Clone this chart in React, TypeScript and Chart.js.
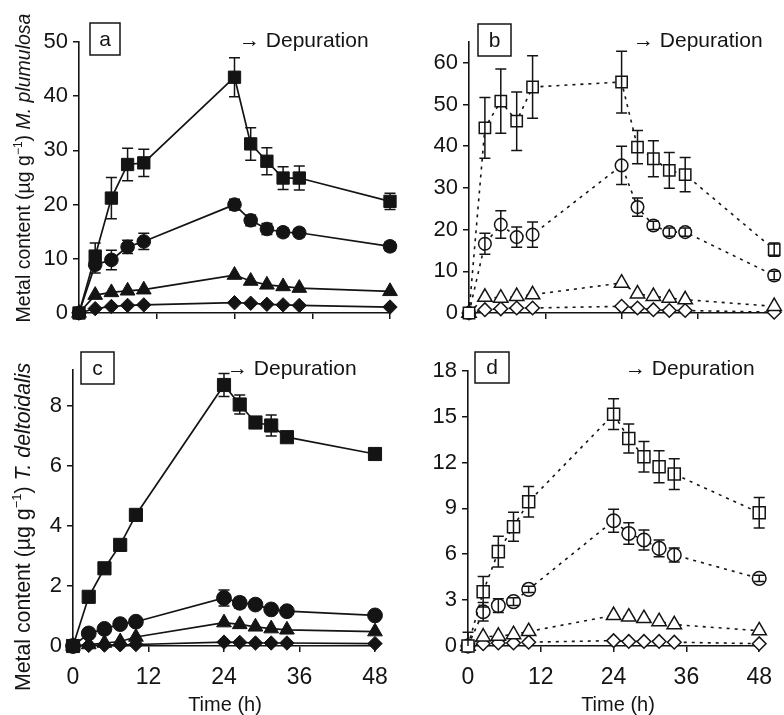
import React, { useEffect, useRef } from 'react';
import { Chart, registerables } from 'chart.js';

Chart.register(...registerables);

const W = 784;
const H = 715;
const FONT = "'Liberation Sans', Arial, Helvetica, sans-serif";
const INK = '#141414';

// ---------- data ----------
const times = [0, 2.5, 5, 7.5, 10, 24, 26.5, 29, 31.5, 34, 48];
const xTicks = [0, 12, 24, 36, 48];
const yTicksA = [0, 10, 20, 30, 40, 50];
const yTicksB = [0, 10, 20, 30, 40, 50, 60];
const yTicksC = [0, 2, 4, 6, 8];
const yTicksD = [0, 3, 6, 9, 12, 15, 18];

const xTitle = 'Time (h)';
const depLabel = '\u2192 Depuration';
const titleTop = [
  { t: 'Metal content (\u00b5g g' },
  { t: '\u22121', sup: true },
  { t: ') ' },
  { t: 'M. plumulosa', it: true },
];
const titleBottom = [
  { t: 'Metal content (\u00b5g g' },
  { t: '\u22121', sup: true },
  { t: ') ' },
  { t: 'T. deltoidalis', it: true },
];

// Panel a (M. plumulosa, filled)
const aSquare = [0, 10.5, 21.2, 27.4, 27.7, 43.5, 31.2, 28.0, 24.9, 24.9, 20.6];
const aSquareErr = [0, 2.4, 3.8, 3.0, 2.5, 3.6, 3.0, 2.5, 2.1, 2.2, 1.5];
const aCircle = [0, 8.9, 9.8, 12.2, 13.2, 20.0, 17.1, 15.5, 14.9, 14.8, 12.3];
const aCircleErr = [0, 1.5, 1.8, 1.2, 1.5, 1.0, 1.0, 1.0, 0.8, 0.8, 0.8];
const aTriangle = [0, 3.3, 3.8, 4.1, 4.3, 7.0, 5.9, 5.2, 4.9, 4.6, 4.0];
const aDiamond = [0, 0.8, 1.2, 1.4, 1.5, 1.9, 1.8, 1.6, 1.5, 1.4, 1.1];

// Panel b (M. plumulosa, open)
const bSquare = [0, 44.4, 50.8, 46.0, 54.2, 55.4, 39.8, 37.0, 34.2, 33.2, 15.2];
const bSquareErr = [0, 7.3, 7.7, 7.0, 7.5, 7.4, 4.0, 4.3, 4.3, 4.1, 1.6];
const bCircle = [0, 16.6, 21.2, 18.2, 18.8, 35.4, 25.4, 21.0, 19.4, 19.4, 9.0];
const bCircleErr = [0, 2.5, 3.3, 2.4, 3.0, 4.6, 2.2, 1.0, 1.0, 1.0, 1.0];
const bTriangle = [0, 3.8, 3.6, 4.0, 4.4, 7.2, 4.6, 4.0, 3.6, 3.2, 1.6];
const bDiamond = [0, 0.8, 1.0, 1.2, 1.2, 1.6, 1.2, 0.8, 0.6, 0.6, 0.2];

// Panel c (T. deltoidalis, filled)
const cSquare = [0, 1.64, 2.59, 3.37, 4.37, 8.7, 8.05, 7.45, 7.35, 6.96, 6.4];
const cSquareErr = [0, 0.05, 0.05, 0.05, 0.05, 0.38, 0.32, 0.1, 0.35, 0.1, 0.1];
const cCircle = [0, 0.42, 0.57, 0.73, 0.81, 1.6, 1.44, 1.38, 1.22, 1.16, 1.02];
const cCircleErr = [0, 0, 0, 0, 0, 0.27, 0.18, 0.15, 0.05, 0.05, 0.05];
const cTriangle = [0, 0.05, 0.1, 0.15, 0.3, 0.78, 0.72, 0.64, 0.58, 0.54, 0.48];
const cDiamond = [0, 0.02, 0.03, 0.04, 0.05, 0.13, 0.12, 0.1, 0.1, 0.1, 0.08];

// Panel d (T. deltoidalis, open)
const dSquare = [0, 3.55, 6.17, 7.8, 9.43, 15.16, 13.57, 12.37, 11.72, 11.24, 8.71];
const dSquareErr = [0.9, 1.0, 1.0, 0.95, 1.0, 1.0, 0.95, 1.0, 1.05, 1.0, 1.0];
const dCircle = [0, 2.24, 2.64, 2.9, 3.7, 8.19, 7.36, 6.93, 6.38, 5.95, 4.42];
const dCircleErr = [0, 0.6, 0.45, 0.25, 0.2, 0.75, 0.7, 0.65, 0.55, 0.45, 0.2];
const dTriangle = [0, 0.6, 0.65, 0.75, 0.95, 2.0, 1.9, 1.8, 1.6, 1.4, 1.0];
const dDiamond = [0, 0.15, 0.2, 0.2, 0.25, 0.35, 0.3, 0.3, 0.3, 0.25, 0.15];

const zeros = times.map(() => 0);

// ---------- layout (positions/styles) ----------
const YW = 60;
const XH = 60;

type Seg = { t: string; sup?: boolean; it?: boolean };

const panels = [
  {
    key: 'a', L: 79, R: 390, T: 42, B: 313, yMax: 50, yTicks: yTicksA, filled: true, dashed: false, showX: false,
    sizes: { sq: 8.7, ci: 6.8, tr: 8.5, di: 7.2 },
    series: [
      { v: aSquare, e: aSquareErr, s: 'rect' },
      { v: aCircle, e: aCircleErr, s: 'circle' },
      { v: aTriangle, e: zeros, s: 'triangle' },
      { v: aDiamond, e: zeros, s: 'rectRot' },
    ],
    box: { x: 90, y: 23, w: 30, h: 32 }, dep: { x: 239, y: 47 },
    title: { segs: titleTop, cy: 168, bx: 30, size: 19.5 },
  },
  {
    key: 'b', L: 469, R: 778, T: 42, B: 313, yMax: 65, yTicks: yTicksB, filled: false, dashed: true, showX: false,
    sizes: { sq: 8, ci: 6.3, tr: 8.3, di: 6.8 },
    series: [
      { v: bSquare, e: bSquareErr, s: 'rect' },
      { v: bCircle, e: bCircleErr, s: 'circle' },
      { v: bTriangle, e: zeros, s: 'triangle' },
      { v: bDiamond, e: zeros, s: 'rectRot' },
    ],
    box: { x: 478, y: 24, w: 33, h: 32 }, dep: { x: 633, y: 47 },
  },
  {
    key: 'c', L: 73, R: 375, T: 370, B: 646, yMax: 9.2, yTicks: yTicksC, filled: true, dashed: false, showX: true,
    sizes: { sq: 9.3, ci: 7.4, tr: 8.5, di: 7.2 },
    series: [
      { v: cSquare, e: cSquareErr, s: 'rect' },
      { v: cCircle, e: cCircleErr, s: 'circle' },
      { v: cTriangle, e: zeros, s: 'triangle' },
      { v: cDiamond, e: zeros, s: 'rectRot' },
    ],
    box: { x: 81, y: 352, w: 33, h: 32 }, dep: { x: 227, y: 375 },
    title: { segs: titleBottom, cy: 527, bx: 30, size: 21.3 },
    xt: { x: 225, y: 711 },
  },
  {
    key: 'd', L: 468, R: 770, T: 370.7, B: 646, yMax: 18, yTicks: yTicksD, filled: false, dashed: true, showX: true,
    sizes: { sq: 8.5, ci: 6.8, tr: 8.3, di: 6.8 },
    series: [
      { v: dSquare, e: dSquareErr, s: 'rect' },
      { v: dCircle, e: dCircleErr, s: 'circle' },
      { v: dTriangle, e: zeros, s: 'triangle' },
      { v: dDiamond, e: zeros, s: 'rectRot' },
    ],
    box: { x: 475, y: 352, w: 34, h: 31 }, dep: { x: 625, y: 375 },
    xt: { x: 618, y: 711 },
  },
];

// ---------- plugins ----------
const errorBars = {
  id: 'errorBars',
  afterDatasetsDraw(chart: any) {
    const ctx = chart.ctx;
    const ys = chart.scales.y;
    ctx.save();
    ctx.strokeStyle = INK;
    ctx.lineWidth = 1.5;
    chart.data.datasets.forEach((ds: any, i: number) => {
      const meta = chart.getDatasetMeta(i);
      const errs: number[] = ds.errors || [];
      meta.data.forEach((pt: any, j: number) => {
        const e = errs[j];
        if (!e) return;
        const v = ds.data[j].y;
        const x = pt.x;
        const yt = ys.getPixelForValue(v + e);
        const yb = ys.getPixelForValue(Math.max(v - e, 0));
        const cw = 5.5;
        ctx.beginPath();
        ctx.moveTo(x, yt); ctx.lineTo(x, yb);
        ctx.moveTo(x - cw, yt); ctx.lineTo(x + cw, yt);
        if (v - e > 0) { ctx.moveTo(x - cw, yb); ctx.lineTo(x + cw, yb); }
        ctx.stroke();
      });
    });
    ctx.restore();
  },
};

function drawRotated(ctx: CanvasRenderingContext2D, segs: Seg[], cy: number, bx: number, size: number) {
  ctx.save();
  const fontFor = (s: Seg) => `${s.it ? 'italic ' : ''}${s.sup ? Math.round(size * 0.62) : size}px ${FONT}`;
  const widths = segs.map((s) => { ctx.font = fontFor(s); return ctx.measureText(s.t).width; });
  const total = widths.reduce((a, b) => a + b, 0);
  ctx.translate(bx, cy);
  ctx.rotate(-Math.PI / 2);
  ctx.fillStyle = INK;
  ctx.textBaseline = 'alphabetic';
  ctx.textAlign = 'left';
  let x = -total / 2;
  segs.forEach((s, i) => {
    ctx.font = fontFor(s);
    ctx.fillText(s.t, x, s.sup ? -size * 0.42 : 0);
    x += widths[i];
  });
  ctx.restore();
}

const decor = {
  id: 'decor',
  afterDraw(chart: any, _args: any, opts: any) {
    const ctx: CanvasRenderingContext2D = chart.ctx;
    const p = opts.panel;
    if (!p) return;
    ctx.save();
    ctx.strokeStyle = INK;
    ctx.lineWidth = 1.5;
    ctx.strokeRect(p.box.x, p.box.y, p.box.w, p.box.h);
    ctx.fillStyle = INK;
    ctx.font = `21px ${FONT}`;
    ctx.textAlign = 'center';
    ctx.textBaseline = 'middle';
    ctx.fillText(p.key, p.box.x + p.box.w / 2, p.box.y + p.box.h / 2 + 1);
    ctx.font = `21px ${FONT}`;
    ctx.textAlign = 'left';
    ctx.textBaseline = 'alphabetic';
    ctx.fillText(depLabel, p.dep.x, p.dep.y);
    if (p.xt) {
      ctx.font = `20px ${FONT}`;
      ctx.textAlign = 'center';
      ctx.fillText(xTitle, p.xt.x, p.xt.y);
    }
    ctx.restore();
    if (p.title) drawRotated(ctx, p.title.segs, p.title.cy, p.title.bx, p.title.size);
  },
};

function buildConfig(p: any) {
  const sizeFor = (s: string) => (s === 'rect' ? p.sizes.sq : s === 'circle' ? p.sizes.ci : s === 'triangle' ? p.sizes.tr : p.sizes.di);
  const datasets = p.series.map((s: any) => ({
    data: times.map((t, i) => ({ x: t, y: s.v[i] })),
    errors: s.e,
    borderColor: INK,
    borderWidth: p.dashed ? 1.6 : 1.7,
    borderDash: p.dashed ? [3, 5] : [],
    pointStyle: s.s,
    pointRadius: sizeFor(s.s),
    pointBorderWidth: p.filled ? 1 : 1.5,
    pointBorderColor: INK,
    pointBackgroundColor: p.filled ? INK : '#ffffff',
    tension: 0,
    clip: false,
    fill: false,
  }));
  return {
    type: 'line',
    data: { datasets },
    options: {
      responsive: false,
      animation: false,
      devicePixelRatio: 1,
      events: [],
      layout: { padding: { left: p.L - YW, right: W - p.R, top: p.T, bottom: H - p.B - XH } },
      plugins: { legend: { display: false }, tooltip: { enabled: false }, decor: { panel: p } },
      scales: {
        x: {
          type: 'linear', min: 0, max: 48,
          afterBuildTicks: (ax: any) => { ax.ticks = xTicks.map((v) => ({ value: v })); },
          afterFit: (s: any) => { s.height = XH; },
          grid: { drawOnChartArea: false, drawTicks: true, tickLength: 6, color: INK, lineWidth: 1.5 },
          border: { display: true, color: INK, width: 1.6 },
          ticks: { display: p.showX, font: { family: FONT, size: 23 }, color: INK, padding: 12, maxRotation: 0, autoSkip: false },
        },
        y: {
          type: 'linear', min: 0, max: p.yMax,
          afterBuildTicks: (ax: any) => { ax.ticks = p.yTicks.map((v: number) => ({ value: v })); },
          afterFit: (s: any) => { s.width = YW; },
          grid: { drawOnChartArea: false, drawTicks: true, tickLength: 6, color: INK, lineWidth: 1.5 },
          border: { display: true, color: INK, width: 1.6 },
          ticks: { font: { family: FONT, size: 22 }, color: INK, padding: 5, autoSkip: false },
        },
      },
    },
    plugins: [errorBars, decor],
  };
}

function Panel({ p }: { p: any }) {
  const ref = useRef<HTMLCanvasElement | null>(null);
  useEffect(() => {
    if (!ref.current) return;
    const chart = new Chart(ref.current, buildConfig(p) as any);
    return () => chart.destroy();
  }, [p]);
  return (
    <canvas
      ref={ref}
      width={W}
      height={H}
      style={{ position: 'absolute', left: 0, top: 0, width: W, height: H }}
    />
  );
}

export default function App() {
  return (
    <div style={{ position: 'absolute', left: 0, top: 0, width: W, height: H, background: '#ffffff', overflow: 'hidden' }}>
      {panels.map((p) => (
        <Panel key={p.key} p={p} />
      ))}
    </div>
  );
}
